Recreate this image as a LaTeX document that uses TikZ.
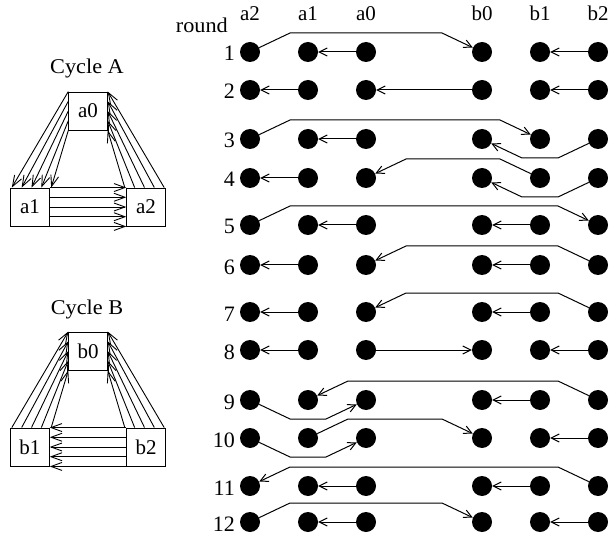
\documentclass[tikz,border=0pt]{standalone}
\usepackage{fontspec}
\setmainfont{Liberation Serif}
\usetikzlibrary{arrows.meta,calc}

\tikzset{
  dot/.style={circle, fill=black, inner sep=0pt, minimum size=20pt},
  link/.style={-{Straight Barb[length=8pt,width=8pt]}, line width=1pt},
  fan/.style={-{Straight Barb[length=11pt,width=8pt]}, line width=0.9pt},
  cbox/.style={draw, line width=0.9pt, inner sep=0pt, minimum width=38.5pt, minimum height=38pt},
  txt/.style={font=\fontsize{21}{24}\selectfont, inner sep=0pt},
  num/.style={font=\fontsize{22}{25}\selectfont, inner sep=0pt},
}
% slightly widened caption lettering
\newcommand\widetext[1]{\scalebox{1.06}[1]{#1}}

\begin{document}
\begin{tikzpicture}[x=1pt, y=-1pt]
\useasboundingbox (0,0) rectangle (610,537);

% ---------- Cycle A ----------
\node[txt, anchor=base] (capA) at (87,74) {\widetext{Cycle A}};
\node[cbox, txt] (a0) at (88,111) {a0};
\node[cbox, txt] (a1) at (30,207) {a1};
\node[cbox, txt] (a2) at (146,207) {a2};
\foreach \k in {0,...,4} {
  % a0 -> a1
  \draw[fan] ($(a0.north west)!\k/4!(a0.south west)$) -- ($(a1.north west)!\k/4!(a1.north east)+(1.5,0)$);
  % a2 -> a0
  \draw[fan] ($(a2.north east)!\k/4!(a2.north west)+(-1.5,0)$) -- ($(a0.north east)!\k/4!(a0.south east)$);
  % a1 -> a2
  \draw[fan] ($(a1.north east)!\k/4!(a1.south east)$) -- ($(a2.north west)!\k/4!(a2.south west)$);
}

% ---------- Cycle B ----------
\node[txt, anchor=base] (capB) at (87,314) {\widetext{Cycle B}};
\node[cbox, txt] (b0) at (88,351) {b0};
\node[cbox, txt] (b1) at (30,447) {b1};
\node[cbox, txt] (b2) at (146,447) {b2};
\foreach \k in {0,...,4} {
  % b1 -> b0
  \draw[fan] ($(b1.north west)!\k/4!(b1.north east)+(1.5,0)$) -- ($(b0.north west)!\k/4!(b0.south west)$);
  % b2 -> b0
  \draw[fan] ($(b2.north east)!\k/4!(b2.north west)+(-1.5,0)$) -- ($(b0.north east)!\k/4!(b0.south east)$);
  % b2 -> b1
  \draw[fan] ($(b2.north west)!\k/4!(b2.south west)$) -- ($(b1.north east)!\k/4!(b1.south east)$);
}

% ---------- header ----------
\node[txt, anchor=base east] (hround) at (228,33) {\widetext{round}};
\foreach \c/\x in {a2/250,a1/308,a0/366,b0/482,b1/540,b2/598}
  \node[txt, anchor=base] (h\c) at (\x,21) {\c};

% ---------- rows of dots ----------
\foreach \r/\y in {1/52,2/90,3/139,4/178,5/225,6/265,7/312,8/350,9/400,10/438,11/486,12/522} {
  \foreach \c/\x in {a2/250,a1/308,a0/366,b0/482,b1/540,b2/598}
    \node[dot] (r\r\c) at (\x,\y) {};
  \node[num, anchor=base east] (n\r) at (235,\y+9) {\r};
}

% ---------- transfers ----------
% round 1
\draw[link] (r1a2) -- ($(r1a2)+(40,-19)$) -- ($(r1b0)+(-40,-19)$) -- (r1b0);
\draw[link] (r1a0) -- (r1a1);
\draw[link] (r1b2) -- (r1b1);
% round 2
\draw[link] (r2a1) -- (r2a2);
\draw[link] (r2b0) -- (r2a0);
\draw[link] (r2b2) -- (r2b1);
% round 3
\draw[link] (r3a2) -- ($(r3a2)+(40,-19)$) -- ($(r3b1)+(-40,-19)$) -- (r3b1);
\draw[link] (r3b2) -- ($(r3b2)+(-40,19)$) -- ($(r3b0)+(40,19)$) -- (r3b0);
\draw[link] (r3a0) -- (r3a1);
% round 4
\draw[link] (r4b1) -- ($(r4b1)+(-40,-19)$) -- ($(r4a0)+(40,-19)$) -- (r4a0);
\draw[link] (r4b2) -- ($(r4b2)+(-40,19)$) -- ($(r4b0)+(40,19)$) -- (r4b0);
\draw[link] (r4a1) -- (r4a2);
% round 5
\draw[link] (r5a2) -- ($(r5a2)+(40,-19)$) -- ($(r5b2)+(-40,-19)$) -- (r5b2);
\draw[link] (r5a0) -- (r5a1);
\draw[link] (r5b1) -- (r5b0);
% round 6
\draw[link] (r6b2) -- ($(r6b2)+(-40,-19)$) -- ($(r6a0)+(40,-19)$) -- (r6a0);
\draw[link] (r6a1) -- (r6a2);
\draw[link] (r6b1) -- (r6b0);
% round 7
\draw[link] (r7b2) -- ($(r7b2)+(-40,-19)$) -- ($(r7a0)+(40,-19)$) -- (r7a0);
\draw[link] (r7a1) -- (r7a2);
\draw[link] (r7b1) -- (r7b0);
% round 8
\draw[link] (r8a1) -- (r8a2);
\draw[link] (r8a0) -- (r8b0);
\draw[link] (r8b2) -- (r8b1);
% round 9
\draw[link] (r9b2) -- ($(r9b2)+(-40,-19)$) -- ($(r9a1)+(40,-19)$) -- (r9a1);
\draw[link] (r9a2) -- ($(r9a2)+(40,19)$) -- ($(r9a0)+(-40,19)$) -- (r9a0);
\draw[link] (r9b1) -- (r9b0);
% round 10
\draw[link] (r10a1) -- ($(r10a1)+(40,-19)$) -- ($(r10b0)+(-40,-19)$) -- (r10b0);
\draw[link] (r10a2) -- ($(r10a2)+(40,19)$) -- ($(r10a0)+(-40,19)$) -- (r10a0);
\draw[link] (r10b2) -- (r10b1);
% round 11
\draw[link] (r11b2) -- ($(r11b2)+(-40,-19)$) -- ($(r11a2)+(40,-19)$) -- (r11a2);
\draw[link] (r11a0) -- (r11a1);
\draw[link] (r11b1) -- (r11b0);
% round 12
\draw[link] (r12a2) -- ($(r12a2)+(40,-19)$) -- ($(r12b0)+(-40,-19)$) -- (r12b0);
\draw[link] (r12a0) -- (r12a1);
\draw[link] (r12b2) -- (r12b1);
\end{tikzpicture}
\end{document}
